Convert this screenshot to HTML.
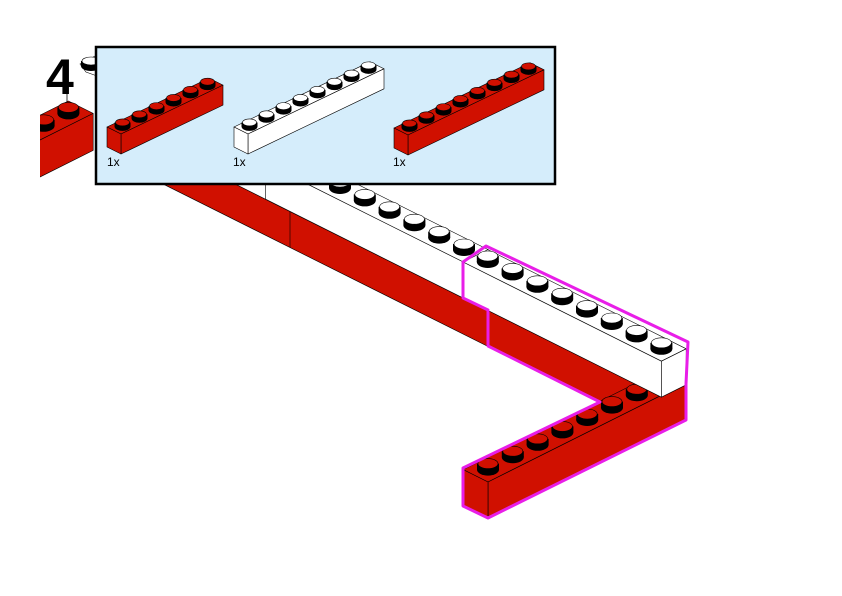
<!DOCTYPE html>
<html><head><meta charset="utf-8"><style>
html,body{margin:0;padding:0;background:#fff;}
svg{display:block;}
text{font-family:"Liberation Sans",sans-serif;}
</style></head><body>
<svg id="s" width="842" height="596" viewBox="0 0 842 596" xmlns="http://www.w3.org/2000/svg">
<defs><clipPath id="cl"><rect x="40" y="0" width="800" height="596"/></clipPath></defs>
<g id="lb" clip-path="url(#cl)"></g>
<g id="g"></g>
<text x="46" y="94" font-size="50" font-weight="bold" fill="#000">4</text>
<rect x="96" y="47" width="459" height="137" fill="#d5edfb" stroke="#000" stroke-width="2.5"/>
<g id="p"></g>
<text x="107" y="166" font-size="12">1x</text>
<text x="233" y="166" font-size="12">1x</text>
<text x="393" y="166" font-size="12">1x</text>
</svg>
<script>
var RED="#d01000", WH="#ffffff";
function pt(p){return p[0].toFixed(1)+","+p[1].toFixed(1);}
function add(a,b,k){k=k||1;return [a[0]+b[0]*k,a[1]+b[1]*k];}
function poly(ps,fill,sw){return '<polygon points="'+ps.map(pt).join(" ")+'" fill="'+fill+'" stroke="#000" stroke-width="'+(sw||0.6)+'" stroke-linejoin="round"/>';}
function stud(c,rx,ry,sh,col){
  var s='<ellipse cx="'+c[0]+'" cy="'+c[1]+'" rx="'+rx+'" ry="'+ry+'" fill="#000"/>';
  s+='<rect x="'+(c[0]-rx)+'" y="'+(c[1]-sh)+'" width="'+(2*rx)+'" height="'+sh+'" fill="#000"/>';
  s+='<ellipse cx="'+c[0]+'" cy="'+(c[1]-sh)+'" rx="'+(rx-1)+'" ry="'+(ry-1)+'" fill="'+col+'" stroke="#000" stroke-width="0.6"/>';
  return s;
}
function brick(P,L,W,n,h,col,endAt,studs,sr){
  var s="",H=[0,h];
  var E=add(P,L,n);
  s+=poly([P,E,add(E,W),add(P,W)],col);
  s+=poly([P,E,add(E,H),add(P,H)],col);
  if(endAt=="s") s+=poly([P,add(P,W),add(add(P,W),H),add(P,H)],col);
  if(endAt=="e") s+=poly([E,add(E,W),add(add(E,W),H),add(E,H)],col);
  if(studs){for(var i=0;i<n;i++){ if(studs.indexOf(i)<0) continue;
    var c=add(add(P,L,i+0.5),W,0.5); s+=stud([c[0],c[1]+sr[3]],sr[0],sr[1],sr[2],col);} }
  return s;
}
function all(n){var r=[];for(var i=0;i<n;i++)r.push(i);return r;}
var a=[24.8,12.4], b=[24.8,-12.4], na=[-24.8,-12.4], h=36, SR=[11,6,6,0];
// left block
var lb="";
lb+='<line x1="67" y1="88" x2="67" y2="104" stroke="#000" stroke-width="0.8"/>';
lb+='<polygon points="80,64 97,55 97,76 86,72" fill="#fff" stroke="#000" stroke-width="0.6"/>';
lb+=stud([91,66],10,5,5,WH);
lb+=brick([-6,163],b,na,4,37,RED,null,[1,2,3],SR);
document.getElementById("lb").innerHTML=lb;
var g="";
var y0=function(x){return 298+0.5*(x-463);};
g+=poly([[100,y0(100)],[488,y0(488)],[488,y0(488)+36],[100,y0(100)+36]],RED);
g+='<line x1="290" y1="'+y0(290)+'" x2="290" y2="'+(y0(290)+36)+'" stroke="#000" stroke-width="0.6"/>';
g+=brick([265.6,163.2],a,b,8,h,WH,null,all(8),SR);
g+=brick([488,310.4],a,b,6,h,RED,"e",null,SR);
g+=brick([488,482],b,na,8,h,RED,"s",[0,1,2,3,4,5,6],SR);
g+=brick([463,262],a,b,8,h,WH,"e",all(8),SR);
var o=[[463,262],[486,246],[688,342],[686,384],[686,420],[488,518],[463,506],[463,468],[600,402],[488,346],[488,310],[463,298]];
g+='<polygon points="'+o.map(pt).join(" ")+'" fill="none" stroke="#e81ee8" stroke-width="3" stroke-linejoin="round"/>';
document.getElementById("g").innerHTML=g;
var L=[17,-8.15], W=[-14,-7], ph=20, PS=[8,4.5,4,0], p="";
p+=brick([121,134],L,W,6,ph,RED,"s",all(6),PS);
p+=brick([248,134],L,W,8,ph,WH,"s",all(8),PS);
p+=brick([408,135],L,W,8,ph,RED,"s",all(8),PS);
document.getElementById("p").innerHTML=p;
</script>
</body></html>
